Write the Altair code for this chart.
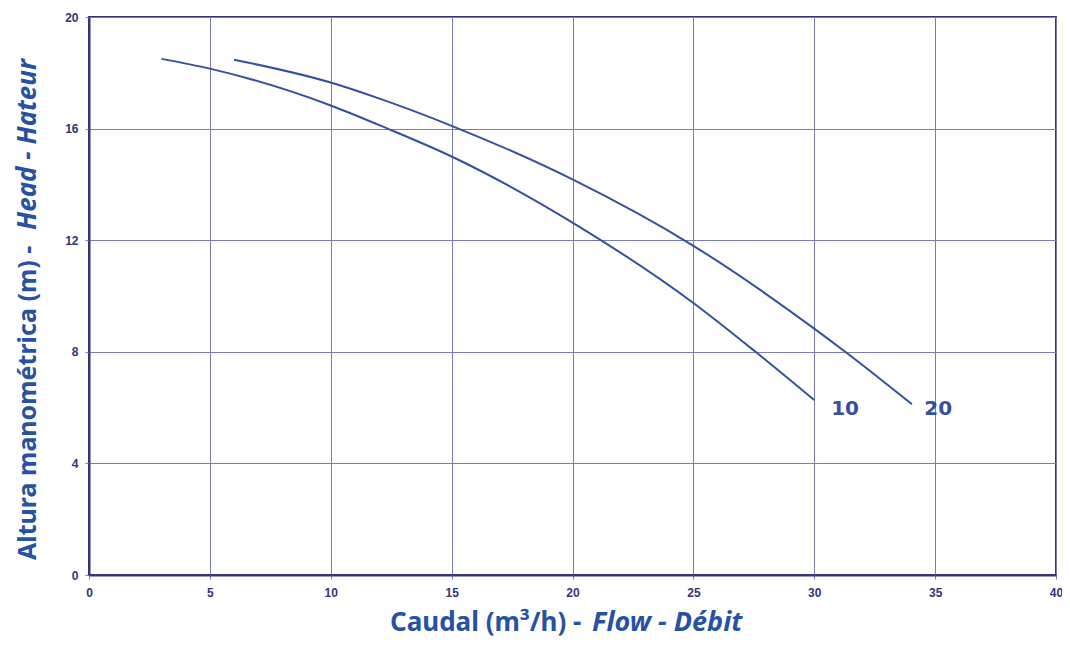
import altair as alt
import pandas as pd

# Pump curve "10"
q10 = [3, 5, 10, 12.35, 15, 20, 25, 27.57, 30]
h10 = [18.5, 18.15, 16.83, 16.0, 15.0, 12.63, 9.75, 8.0, 6.27]
# Pump curve "20"
q20 = [6, 10, 11.93, 15, 20, 25, 30, 31.28, 34.04]
h20 = [18.47, 17.65, 17.1, 16.1, 14.18, 11.8, 8.83, 8.0, 6.12]

curve_names = ["10", "20"]
label_q = [30.7, 34.55]
label_h = [5.95, 5.95]

x_ticks = [0, 5, 10, 15, 20, 25, 30, 35, 40]
y_ticks = [0, 4, 8, 12, 16, 20]

x_title_a = "Caudal (m³/h) - "
x_title_b = "Flow - Débit"
y_title_a = "Altura manométrica (m) - "
y_title_b = "Head - Hateur"

rows = []
for q, h in zip(q10, h10):
    rows.append({"q": q, "h": h, "curve": "10"})
for q, h in zip(q20, h20):
    rows.append({"q": q, "h": h, "curve": "20"})
df = pd.DataFrame(rows)
lab = pd.DataFrame({"q": label_q, "h": label_h, "name": curve_names})

LINE = "#3450a0"
NAVY = "#34347a"
GRID = "#7c7cb0"
TITLE = "#2752a3"
TFONT = "Noto Sans"

xs = alt.Scale(domain=[0, 40], nice=False)
ys = alt.Scale(domain=[0, 20], nice=False)

xax = alt.Axis(values=x_ticks, title=None, grid=True, gridColor=GRID, gridWidth=1,
               domainColor=NAVY, domainWidth=2, tickColor=GRID, tickSize=4,
               labelFont="Liberation Sans", labelFontWeight="bold", labelFontSize=12,
               labelColor=NAVY, labelPadding=8, labelFlush=False)
yax = alt.Axis(values=y_ticks, title=None, grid=True, gridColor=GRID, gridWidth=1,
               domainColor=NAVY, domainWidth=2, tickColor=GRID, tickSize=4,
               labelFont="Liberation Sans", labelFontWeight="bold", labelFontSize=12,
               labelColor=NAVY, labelPadding=7, labelFlush=False)

lines = alt.Chart(df).mark_line(color=LINE, strokeWidth=2, interpolate="monotone").encode(
    x=alt.X("q:Q", scale=xs, axis=xax),
    y=alt.Y("h:Q", scale=ys, axis=yax),
    detail="curve:N",
)

labels = alt.Chart(lab).mark_text(
    align="left", baseline="middle", font="DejaVu Sans", fontWeight="bold",
    fontSize=20, color=LINE
).encode(x=alt.X("q:Q", scale=xs), y=alt.Y("h:Q", scale=ys), text="name:N")

tdf = pd.DataFrame({"a": [x_title_a], "b": [x_title_b], "c": [y_title_a], "d": [y_title_b]})
base = alt.Chart(tdf)
xa = base.mark_text(align="left", baseline="alphabetic", font=TFONT, fontWeight="bold",
                    fontSize=26, color=TITLE).encode(
    text="a:N", x=alt.value(301), y=alt.value(614))
xb = base.mark_text(align="left", baseline="alphabetic", font=TFONT, fontWeight="bold",
                    fontStyle="italic", fontSize=27, color=TITLE).encode(
    text="b:N", x=alt.value(503), y=alt.value(614))
ya = base.mark_text(align="left", baseline="alphabetic", font=TFONT, fontWeight="bold",
                    fontSize=25, angle=270, color=TITLE).encode(
    text="c:N", x=alt.value(-53), y=alt.value(543))
yb = base.mark_text(align="left", baseline="alphabetic", font=TFONT, fontWeight="bold",
                    fontStyle="italic", fontSize=26, angle=270, color=TITLE).encode(
    text="d:N", x=alt.value(-53), y=alt.value(213))

chart = alt.layer(lines, labels, xa, xb, ya, yb).properties(
    width=967, height=558,
    autosize=alt.AutoSizeParams(type="none"),
    padding={"left": 81, "top": 9, "right": 6, "bottom": 63},
    background="white",
).configure_view(stroke=NAVY, strokeWidth=2)

chart.save("out.html", embed_options={"renderer": "svg", "actions": False})
